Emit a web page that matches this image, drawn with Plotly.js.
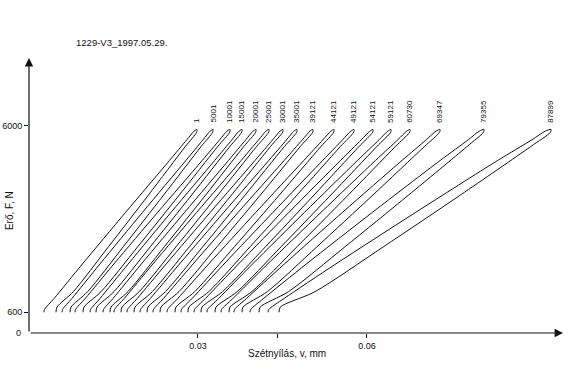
<!DOCTYPE html>
<html>
<head>
<meta charset="utf-8">
<script src="https://cdn.plot.ly/plotly-3.0.1.min.js"></script>
<style>html,body{margin:0;padding:0;background:#fff;}#chart{width:576px;height:384px;}</style>
</head>
<body>
<div id="chart"></div>
<script>
// Force levels (N) along each loop: loading branch up to the tip, then unloading back down
const force = [600, 680, 1000, 2000, 3500, 5000, 5600, 5850, 5900, 5820, 5400, 4000, 2500, 1200, 750, 600];

// Crack opening v (mm) at each force level, one array per cycle count
const loop1     = [0.00266, 0.00275, 0.00445, 0.00948, 0.01717, 0.02494, 0.02801, 0.02931, 0.02982, 0.02977, 0.02773, 0.02121, 0.01411, 0.00788, 0.00497, 0.00479];
const loop5001  = [0.00586, 0.00595, 0.00762, 0.01259, 0.02017, 0.02785, 0.03089, 0.03215, 0.03266, 0.03261, 0.03053, 0.02391, 0.01674, 0.01042, 0.00746, 0.00728];
const loop10001 = [0.00817, 0.00825, 0.00998, 0.01507, 0.02286, 0.03074, 0.03385, 0.03515, 0.03568, 0.03563, 0.03348, 0.02668, 0.01930, 0.01280, 0.00976, 0.00959];
const loop15001 = [0.01083, 0.01092, 0.01260, 0.01761, 0.02524, 0.03296, 0.03602, 0.03730, 0.03781, 0.03776, 0.03563, 0.02888, 0.02153, 0.01509, 0.01207, 0.01189];
const loop20001 = [0.01314, 0.01322, 0.01491, 0.01995, 0.02764, 0.03541, 0.03848, 0.03978, 0.04029, 0.04024, 0.03811, 0.03137, 0.02402, 0.01757, 0.01456, 0.01438];
const loop25001 = [0.01509, 0.01518, 0.01690, 0.02199, 0.02979, 0.03767, 0.04077, 0.04207, 0.04260, 0.04255, 0.04038, 0.03353, 0.02611, 0.01958, 0.01651, 0.01633];
const loop30001 = [0.01740, 0.01748, 0.01922, 0.02435, 0.03220, 0.04012, 0.04326, 0.04456, 0.04509, 0.04503, 0.04285, 0.03596, 0.02847, 0.02190, 0.01882, 0.01864];
const loop35001 = [0.01970, 0.01979, 0.02153, 0.02672, 0.03460, 0.04257, 0.04573, 0.04704, 0.04757, 0.04752, 0.04532, 0.03838, 0.03085, 0.02423, 0.02112, 0.02095];
const loop39121 = [0.02201, 0.02210, 0.02386, 0.02913, 0.03715, 0.04530, 0.04853, 0.04988, 0.05041, 0.05036, 0.04814, 0.04108, 0.03337, 0.02663, 0.02343, 0.02325];
const loop44121 = [0.02450, 0.02459, 0.02641, 0.03190, 0.04029, 0.04878, 0.05219, 0.05359, 0.05414, 0.05409, 0.05180, 0.04445, 0.03646, 0.02943, 0.02609, 0.02592];
const loop49121 = [0.02698, 0.02707, 0.02895, 0.03463, 0.04333, 0.05213, 0.05568, 0.05714, 0.05769, 0.05764, 0.05526, 0.04759, 0.03925, 0.03192, 0.02840, 0.02822];
const loop54121 = [0.02929, 0.02938, 0.03131, 0.03719, 0.04617, 0.05529, 0.05900, 0.06050, 0.06106, 0.06101, 0.05856, 0.05061, 0.04198, 0.03437, 0.03071, 0.03053];
const loop59121 = [0.03160, 0.03169, 0.03366, 0.03969, 0.04894, 0.05831, 0.06215, 0.06369, 0.06426, 0.06421, 0.06172, 0.05359, 0.04475, 0.03696, 0.03319, 0.03302];
const loop60730 = [0.03408, 0.03417, 0.03619, 0.04237, 0.05187, 0.06151, 0.06547, 0.06705, 0.06763, 0.06758, 0.06502, 0.05668, 0.04759, 0.03957, 0.03568, 0.03550];
const loop69347 = [0.03639, 0.03648, 0.03861, 0.04534, 0.05568, 0.06621, 0.07052, 0.07226, 0.07296, 0.07289, 0.07017, 0.06106, 0.05112, 0.04232, 0.03799, 0.03781];
const loop79355 = [0.03923, 0.03935, 0.04164, 0.04924, 0.06099, 0.07299, 0.07798, 0.07993, 0.08077, 0.08068, 0.07773, 0.06740, 0.05611, 0.04608, 0.04104, 0.04083];
const loop87899 = [0.04243, 0.04257, 0.04528, 0.05446, 0.06868, 0.08320, 0.08929, 0.09165, 0.09266, 0.09257, 0.08904, 0.07660, 0.06293, 0.05079, 0.04461, 0.04438];

const loopLabels = ['1', '5001', '10001', '15001', '20001', '25001', '30001', '35001', '39121', '44121', '49121', '54121', '59121', '60730', '69347', '79355', '87899'];
const loops = [loop1, loop5001, loop10001, loop15001, loop20001, loop25001, loop30001, loop35001, loop39121, loop44121, loop49121, loop54121, loop59121, loop60730, loop69347, loop79355, loop87899];

const yTickVals = [600, 6000];
const yTickText = ['600', '6000'];
const xTickVals = [0.03, 0.0442, 0.06];
const xTickText = ['0.03', '', '0.06'];

const xMax = 0.0948, yMax = 7970;
const ink = '#111';
const fam = 'Liberation Sans, Arial, sans-serif';

const traces = loops.map((xs, i) => ({
  type: 'scatter', mode: 'lines', x: xs, y: force, name: loopLabels[i],
  line: {color: ink, width: 1, shape: 'spline', smoothing: 0.8},
  hoverinfo: 'skip'
}));

const tipIndex = force.indexOf(Math.max(...force));
const annotations = loops.map((xs, i) => ({
  x: xs[tipIndex], y: force[tipIndex], xref: 'x', yref: 'y',
  text: loopLabels[i], showarrow: false, textangle: -90,
  xanchor: 'center', yanchor: 'bottom', yshift: 5,
  font: {size: 8, color: ink, family: fam}
}));

// "0" label at the origin
annotations.push({x: 0, y: 0, xref: 'x', yref: 'y', text: '0', showarrow: false,
  xanchor: 'right', yanchor: 'middle', xshift: -6, font: {size: 9, color: ink, family: fam}});

// axis arrows
annotations.push({x: xMax, y: 0, ax: 0, ay: 0, xref: 'x', yref: 'y', axref: 'x', ayref: 'y',
  text: '', showarrow: true, arrowhead: 2, arrowsize: 1.4, arrowwidth: 1.2, arrowcolor: ink});
annotations.push({x: 0, y: yMax, ax: 0, ay: 0, xref: 'x', yref: 'y', axref: 'x', ayref: 'y',
  text: '', showarrow: true, arrowhead: 2, arrowsize: 1.4, arrowwidth: 1.2, arrowcolor: ink});

// axis titles
annotations.push({text: 'Szétnyílás, v, mm', xref: 'paper', yref: 'paper', x: 0.483, y: -0.073,
  xanchor: 'center', yanchor: 'middle', showarrow: false,
  font: {size: 10, color: ink, family: fam}});
annotations.push({text: 'Erő, F, N', xref: 'paper', yref: 'paper', x: -0.0375, y: 0.447,
  xanchor: 'center', yanchor: 'middle', showarrow: false, textangle: -90,
  font: {size: 10, color: ink, family: fam}});

const layout = {
  width: 576, height: 384,
  margin: {l: 29, r: 13, t: 58, b: 51, pad: 0},
  paper_bgcolor: '#fff', plot_bgcolor: '#fff',
  showlegend: false,
  font: {family: fam, color: ink, size: 9},
  title: {text: '1229-V3_1997.05.29.', x: 0.132, xref: 'container', xanchor: 'left',
    y: 0.888, yref: 'container', yanchor: 'middle',
    font: {size: 9.5, color: ink, family: fam}},
  xaxis: {range: [0, xMax], showgrid: false, zeroline: false, showline: false,
    ticks: 'outside', ticklen: 4, tickwidth: 1, tickcolor: ink,
    tickmode: 'array', tickvals: xTickVals, ticktext: xTickText,
    tickfont: {size: 9, color: ink}},
  yaxis: {range: [0, yMax], showgrid: false, zeroline: false, showline: false,
    ticks: 'outside', ticklen: 4, tickwidth: 1, tickcolor: ink,
    tickmode: 'array', tickvals: yTickVals, ticktext: yTickText,
    tickfont: {size: 9, color: ink}},
  annotations: annotations
};

Plotly.newPlot('chart', traces, layout, {displayModeBar: false, staticPlot: true});
</script>
</body>
</html>
